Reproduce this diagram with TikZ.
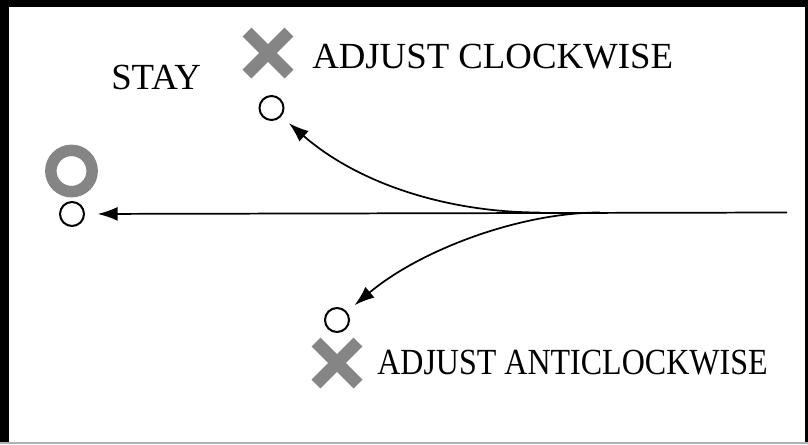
\documentclass[tikz,border=0pt]{standalone}
\usepackage{fontspec}
\setmainfont{Liberation Serif}
\usetikzlibrary{arrows.meta,positioning}
\definecolor{markgray}{HTML}{858585}

\begin{document}
\begin{tikzpicture}[x=0.75pt, y=-0.75pt,
		spot/.style={circle, draw, line width=1.5pt, minimum size=18pt, inner sep=0pt},
		move/.style={-{Latex[length=15pt, width=10.5pt]}, line width=1.3pt},
		lbl/.style={anchor=base west, inner sep=0pt, font=\fontsize{27.6}{30}\selectfont},
		cross/.style={line width=9.5pt, color=markgray}]
		\useasboundingbox (0,0) rectangle (808,444);
		% frame
		\fill[black] (0,0) rectangle (808,7);
		\fill[black] (0,0) rectangle (9,444);
		\fill[black] (805,0) rectangle (808,444);
		\fill[gray!60] (0,442) rectangle (808,444);
		
		\node[spot] (cw) at (271.5,108) {};
		\node[spot] (stay) at (72,214) {};
		\node[spot] (acw) at (337,320) {};
		\node[circle, draw=markgray, line width=8.6pt, minimum size=31pt, inner sep=0pt] (stayring) at (71.5,171) {};
		
		\draw[cross] (247,32) -- (289,74) (247,74) -- (289,32);
		\draw[cross] (316,342) -- (358,384) (316,384) -- (358,342);
		
		\node[lbl] (cwtxt) at (312,68) {ADJUST CLOCKWISE};
		\node[lbl] (staytxt) at (111,89) {STAY};
		\node[lbl] (acwtxt) at (377,374) {\scalebox{0.87}[1]{ADJUST ANTICLOCKWISE}};
		
		\coordinate (start) at (787,212.5);
		\coordinate (forkcw) at (540,212.5);
		\coordinate (forkacw) at (600,212.5);
		
		\draw[move, shorten >=9.5pt] (start) -- (stay); % stay
		\draw[move, shorten >=7.5pt] (forkcw) .. controls (450,212.5) and (360,185) .. (cw); % clockwise
		\draw[move, shorten >=7.5pt] (forkacw) .. controls (520,212.5) and (420,250) .. (acw); % anticlockwise
	\end{tikzpicture}
\end{document}
